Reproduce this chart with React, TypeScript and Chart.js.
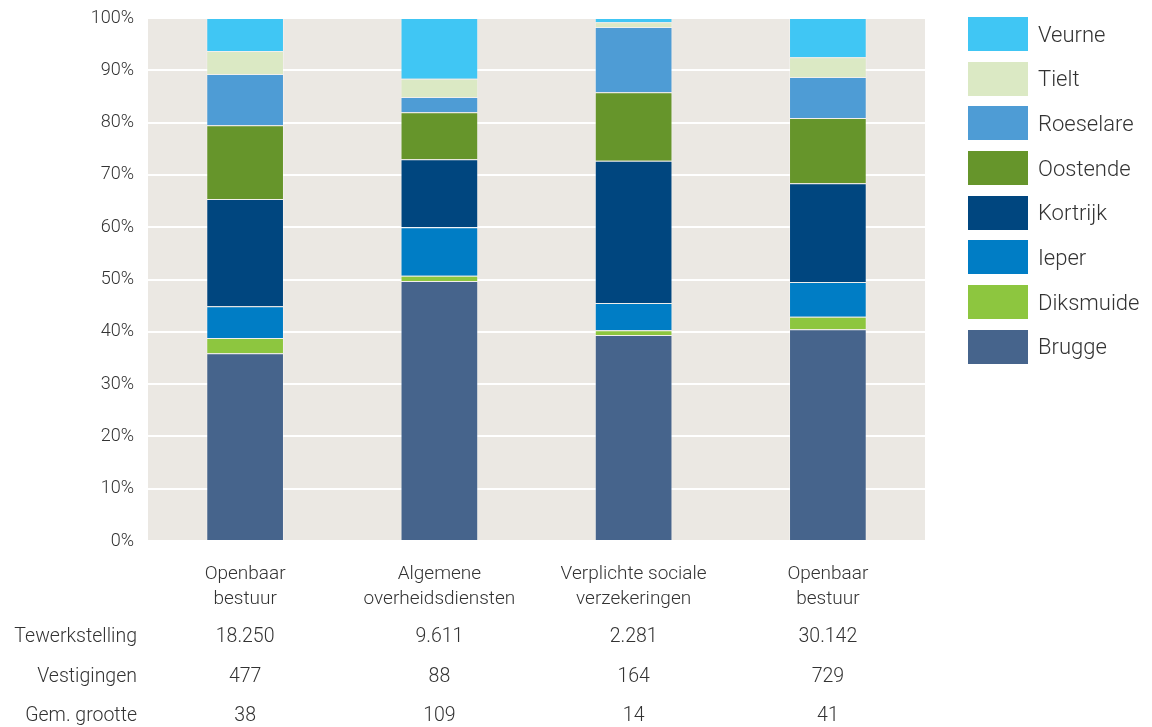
import React, { useEffect, useRef } from "react";
import { Chart, registerables } from "chart.js";

Chart.register(...registerables);

const categories: string[][] = [
  ["Openbaar", "bestuur"],
  ["Algemene", "overheidsdiensten"],
  ["Verplichte sociale", "verzekeringen"],
  ["Openbaar", "bestuur"],
];

const seriesNames = ["Brugge", "Diksmuide", "Ieper", "Kortrijk", "Oostende", "Roeselare", "Tielt", "Veurne"];
const seriesColors = ["#46648c", "#8dc63f", "#007dc5", "#00467f", "#66952b", "#4e9cd5", "#dbe9c4", "#40c6f4"];

const brugge = [35.9, 49.7, 39.4, 40.5];
const diksmuide = [2.9, 1.0, 0.9, 2.4];
const ieper = [6.1, 9.3, 5.2, 6.6];
const kortrijk = [20.5, 13.0, 27.2, 18.9];
const oostende = [14.1, 9.0, 13.1, 12.5];
const roeselare = [9.8, 2.9, 12.5, 7.8];
const tielt = [4.4, 3.5, 0.9, 3.8];
const veurne = [6.3, 11.6, 0.8, 7.5];

const tewerkstelling = [18250, 9611, 2281, 30142];
const vestigingen = [477, 88, 164, 729];
const gemGrootte = [38, 109, 14, 41];
const rowLabels = ["Tewerkstelling", "Vestigingen", "Gem. grootte"];

const FONT = "Roboto, 'Open Sans', sans-serif";
const TEXT = "#333333";

function fmt(n: number): string {
  return String(n).replace(/\B(?=(\d{3})+(?!\d))/g, ".");
}

export default function App() {
  const ref = useRef<HTMLCanvasElement | null>(null);

  useEffect(() => {
    if (!ref.current) return;
    const values = [brugge, diksmuide, ieper, kortrijk, oostende, roeselare, tielt, veurne];
    const bgPlugin = {
      id: "plotBg",
      beforeDraw(chart: any) {
        const { ctx, chartArea } = chart;
        ctx.save();
        ctx.fillStyle = "#ebe8e3";
        ctx.fillRect(chartArea.left, chartArea.top, chartArea.right - chartArea.left, chartArea.bottom - chartArea.top);
        ctx.restore();
      },
    };
    const tablePlugin = {
      id: "table",
      afterDraw(chart: any) {
        const { ctx, chartArea } = chart;
        const x = chart.scales.x;
        const rows = [tewerkstelling.map(fmt), vestigingen.map(fmt), gemGrootte.map(fmt)];
        const offsets = [96, 136, 175];
        ctx.save();
        ctx.font = `300 19.5px ${FONT}`;
        ctx.fillStyle = TEXT;
        ctx.textBaseline = "middle";
        rows.forEach((row, r) => {
          const y = chartArea.bottom + offsets[r];
          ctx.textAlign = "right";
          ctx.fillText(rowLabels[r], 137, y);
          ctx.textAlign = "center";
          row.forEach((v, i) => ctx.fillText(v, x.getPixelForValue(i), y));
        });
        ctx.restore();
      },
    };
    const chart = new Chart(ref.current, {
      type: "bar",
      data: {
        labels: categories as any,
        datasets: seriesNames.map((name, i) => ({
          label: name,
          data: values[i],
          backgroundColor: seriesColors[i],
          borderColor: "rgba(255,255,255,0.3)",
          borderWidth: 1,
          barPercentage: 0.4,
          categoryPercentage: 1,
        })),
      },
      options: {
        responsive: false,
        animation: false,
        layout: { padding: { left: 0, right: 227, top: 18, bottom: 0 } },
        plugins: { legend: { display: false }, tooltip: { enabled: false } },
        scales: {
          x: {
            stacked: true,
            grid: { display: false, drawTicks: false },
            border: { display: false },
            ticks: { padding: 21, color: TEXT, font: { family: FONT, size: 19, weight: 300 as any, lineHeight: 1.3 } },
            afterFit: (s: any) => { s.height = 186; },
          },
          y: {
            stacked: true,
            min: 0,
            max: 100,
            grid: { color: "#ffffff", lineWidth: 2, drawTicks: false },
            border: { display: false },
            ticks: {
              stepSize: 10,
              padding: 14,
              color: TEXT,
              font: { family: FONT, size: 18, weight: 300 as any },
              callback: (v: any) => v + "%",
            },
            afterFit: (s: any) => { s.width = 148; s.paddingTop = 0; s.paddingBottom = 0; },
          },
        },
      },
      plugins: [bgPlugin, tablePlugin],
    });
    return () => chart.destroy();
  }, []);

  const legendOrder = [7, 6, 5, 4, 3, 2, 1, 0];
  return (
    <div style={{ position: "fixed", left: 0, top: 0, width: 1152, height: 727, background: "#fff" }}>
      <canvas ref={ref} width={1152} height={727} style={{ display: "block" }} />
      <div style={{ position: "absolute", left: 968, top: 17 }}>
        {legendOrder.map((i, k) => (
          <div key={k} style={{ display: "flex", alignItems: "center", height: 34, marginBottom: 10.7 }}>
            <div style={{ width: 60, height: 34, background: seriesColors[i] }} />
            <span style={{ marginLeft: 10, fontFamily: FONT, fontWeight: 300, fontSize: 22, color: TEXT }}>{seriesNames[i]}</span>
          </div>
        ))}
      </div>
    </div>
  );
}
